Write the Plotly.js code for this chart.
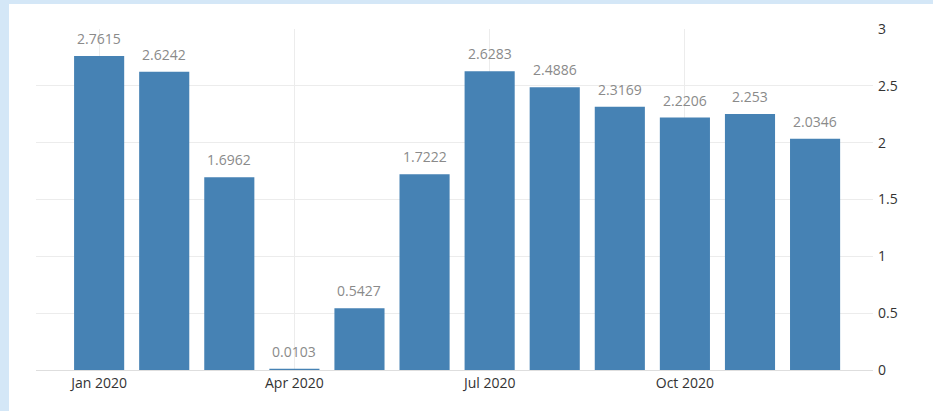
<!DOCTYPE html>
<html>
<head>
<meta charset="utf-8">
<script src="https://cdn.plot.ly/plotly-3.0.1.min.js"></script>
<style>
html,body{margin:0;padding:0;background:#d4e7f7;width:933px;height:411px;overflow:hidden;}
#chart{position:absolute;left:9px;top:4px;width:924px;height:407px;background:#fff;}
</style>
</head>
<body>
<div id="chart"></div>
<script>
const months = ['Jan 2020','Feb 2020','Mar 2020','Apr 2020','May 2020','Jun 2020','Jul 2020','Aug 2020','Sep 2020','Oct 2020','Nov 2020','Dec 2020'];
const values = [2.7615, 2.6242, 1.6962, 0.0103, 0.5427, 1.7222, 2.6283, 2.4886, 2.3169, 2.2206, 2.253, 2.0346];
const labels = ['2.7615','2.6242','1.6962','0.0103','0.5427','1.7222','2.6283','2.4886','2.3169','2.2206','2.253','2.0346'];
const xTicks = ['Jan 2020','Apr 2020','Jul 2020','Oct 2020'];
const yTicks = [0, 0.5, 1, 1.5, 2, 2.5, 3];
const yTickText = ['0','0.5','1','1.5','2','2.5','3'];

const annotations = months.map((m, i) => ({
  x: m, y: values[i], xref: 'x', yref: 'y',
  text: labels[i], showarrow: false,
  yanchor: 'bottom', yshift: 6,
  font: {family: 'Open Sans, sans-serif', size: 14, color: '#8a8a8a'}
}));

Plotly.newPlot('chart', [{
  type: 'bar',
  x: months,
  y: values,
  marker: {color: '#4682b4'},
  hoverinfo: 'x+y'
}], {
  width: 924, height: 407,
  margin: {l: 27, r: 60, t: 25, b: 41},
  paper_bgcolor: '#ffffff',
  plot_bgcolor: '#ffffff',
  bargap: 0.23,
  showlegend: false,
  annotations: annotations,
  font: {family: 'Open Sans, sans-serif', color: '#333'},
  xaxis: {
    type: 'category',
    range: [-0.97, 11.89],
    tickmode: 'array',
    tickvals: xTicks,
    ticktext: xTicks,
    showgrid: true,
    gridcolor: '#ececec',
    ticks: '',
    ticklabelstandoff: 3,
    tickfont: {size: 14, color: '#333'},
    zeroline: false,
    showline: false
  },
  yaxis: {
    side: 'right',
    range: [0, 3],
    tickmode: 'array',
    tickvals: yTicks,
    ticktext: yTickText,
    showgrid: true,
    gridcolor: '#ececec',
    zeroline: true,
    zerolinecolor: '#dedede',
    ticks: '',
    ticklabelstandoff: 4,
    tickfont: {size: 14, color: '#333'},
    showline: false
  }
}, {displayModeBar: false, staticPlot: true});
</script>
</body>
</html>
